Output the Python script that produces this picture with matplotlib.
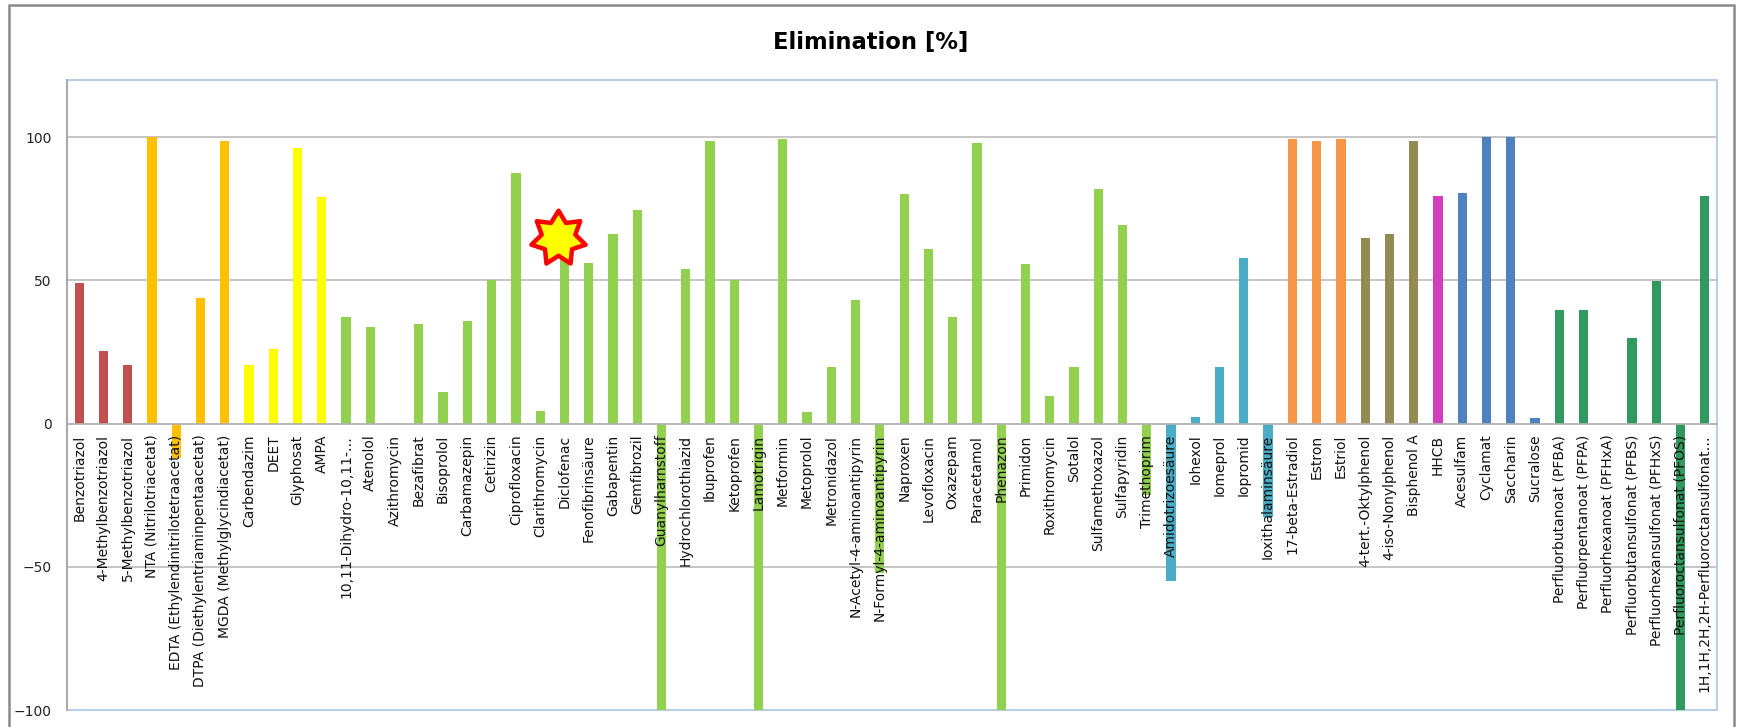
import matplotlib
matplotlib.use('Agg')
import matplotlib.pyplot as plt
from matplotlib.patches import Rectangle
from matplotlib.path import Path

# Substances and their elimination in percent (negative = formed / increased)
substances = [
    'Benzotriazol', '4-Methylbenzotriazol', '5-Methylbenzotriazol',
    'NTA (Nitrilotriacetat)', 'EDTA (Ethylendinitrilotetraacetat)',
    'DTPA (Diethylentriaminpentaacetat)', 'MGDA (Methylglycindiacetat)',
    'Carbendazim', 'DEET', 'Glyphosat', 'AMPA',
    '10,11-Dihydro-10,11-…', 'Atenolol', 'Azithromycin', 'Bezafibrat', 'Bisoprolol',
    'Carbamazepin', 'Cetirizin', 'Ciprofloxacin', 'Clarithromycin', 'Diclofenac',
    'Fenofibrinsäure', 'Gabapentin', 'Gemfibrozil', 'Guanylharnstoff',
    'Hydrochlorothiazid', 'Ibuprofen', 'Ketoprofen', 'Lamotrigin', 'Metformin',
    'Metoprolol', 'Metronidazol', 'N-Acetyl-4-aminoantipyrin',
    'N-Formyl-4-aminoantipyrin', 'Naproxen', 'Levofloxacin', 'Oxazepam',
    'Paracetamol', 'Phenazon', 'Primidon', 'Roxithromycin', 'Sotalol',
    'Sulfamethoxazol', 'Sulfapyridin', 'Trimethoprim',
    'Amidotrizoesäure', 'Iohexol', 'Iomeprol', 'Iopromid', 'Ioxithalaminsäure',
    '17-beta-Estradiol', 'Estron', 'Estriol',
    '4-tert.-Oktylphenol', '4-iso-Nonylphenol', 'Bisphenol A',
    'HHCB',
    'Acesulfam', 'Cyclamat', 'Saccharin', 'Sucralose',
    'Perfluorbutanoat (PFBA)', 'Perfluorpentanoat (PFPA)', 'Perfluorhexanoat (PFHxA)',
    'Perfluorbutansulfonat (PFBS)', 'Perfluorhexansulfonat (PFHxS)',
    'Perfluoroctansulfonat (PFOS)', '1H,1H,2H,2H-Perfluoroctansulfonat…',
]

elimination = [
    49, 25.5, 20.5,
    100, -12,
    44, 98.7,
    20.5, 26, 96.3, 79,
    37.3, 33.7, 0, 34.7, 11,
    35.8, 50, 87.6, 4.3, 60,
    56.2, 66.2, 74.6, -100,
    54, 98.7, 50, -100, 99.3,
    4.1, 19.7, 43.2,
    -52, 80.1, 61, 37.2,
    98.1, -100, 55.6, 9.8, 19.7,
    81.8, 69.2, -25,
    -55, 2.2, 19.7, 58, -32.5,
    99.3, 98.7, 99.3,
    64.7, 66.2, 98.7,
    79.6,
    80.6, 100, 100, 2,
    39.7, 39.7, 0,
    29.9, 49.8,
    -100, 79.6,
]

# Colour per substance group, with how many substances belong to it
groups = [
    ('#C0504D', 3),   # Benzotriazole
    ('#FFC000', 4),   # Komplexbildner
    ('#FFFF00', 4),   # Pflanzenschutz / Repellent
    ('#92D050', 34),  # Arzneimittel
    ('#4BACC6', 5),   # Röntgenkontrastmittel
    ('#F79646', 3),   # Hormone
    ('#948A54', 3),   # Industriechemikalien
    ('#D23EBE', 1),   # Moschusduftstoff
    ('#4F81BD', 4),   # Süßstoffe
    ('#31985F', 7),   # PFAS
]
colors = [c for c, k in groups for _ in range(k)]

yticks = [-100, -50, 0, 50, 100]
highlight = 'Diclofenac'

fig = plt.figure(figsize=(17.42, 7.27), dpi=100)
ax = fig.add_axes([67 / 1742, 1 - 710 / 727, 1650 / 1742, 630 / 727])

x = list(range(len(substances)))
ax.bar(x, elimination, width=0.38, color=colors, zorder=1)

# x axis runs along the zero line; set this before the labels,
# moving the spine resets the ticks
ax.spines['bottom'].set_position(('data', 0))
ax.spines['bottom'].set_color('#B0B0B0')
ax.spines['bottom'].set_linewidth(1.3)

ax.set_xlim(-0.5, len(substances) - 0.5)
ax.set_ylim(-100, 120)
ax.set_yticks(yticks)
ax.tick_params(axis='y', length=0, pad=11, labelsize=10, labelcolor='#222222')

# category labels sit on the zero line and are drawn over the negative bars
ax.set_xticks(x)
ax.set_xticklabels(substances, fontsize=10)
ax.tick_params(axis='x', length=0, pad=8, labelcolor='#111111', labelrotation=90)
for lbl in ax.get_xticklabels():
    lbl.set_va('top')
    lbl.set_ha('center')

# gridlines under the bars, axis labels stay on top
for y in yticks:
    if y not in (0, -100):
        ax.axhline(y, color='#C0C0C0', lw=1.3, zorder=0.5)

for side in ['top', 'right']:
    ax.spines[side].set_visible(False)
ax.spines['left'].set_color('#A6A6A6')
ax.spines['left'].set_linewidth(1.3)
ax.add_patch(Rectangle((0, 0), 1, 1, transform=ax.transAxes, fill=False,
                       edgecolor='#B9CDE5', lw=1.5, zorder=0.6, clip_on=False))

# star marking diclofenac
star = Path.unit_regular_star(7, 0.62)
i = substances.index(highlight)
ax.plot(i - 0.25, 65, marker=star, markersize=40, markerfacecolor='#FFFF00',
        markeredgecolor='#FF0000', markeredgewidth=3.2, zorder=5, clip_on=False)

fig.text(0.5, 1 - 42 / 727, 'Elimination [%]', ha='center', va='center',
         fontsize=16.3, fontweight='bold')

# outer chart frame
fig.patches.append(Rectangle((9 / 1742, -0.02), 1725 / 1742, 1.02 - 5 / 727,
                             transform=fig.transFigure, fill=False,
                             edgecolor='#8A8A8A', lw=1.8))

fig.savefig('out.png', dpi=100, facecolor='white')
